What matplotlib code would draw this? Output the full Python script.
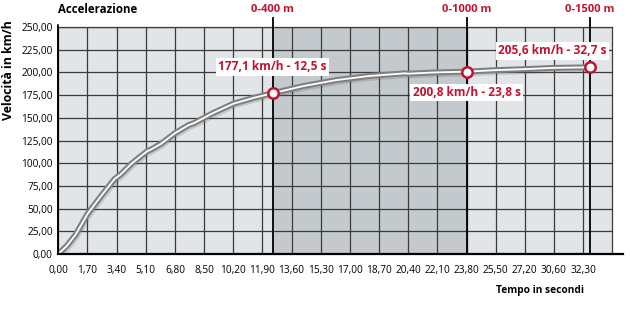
import numpy as np
import matplotlib
matplotlib.use("Agg")
import matplotlib.pyplot as plt
import matplotlib.patheffects as pe
from matplotlib.transforms import blended_transform_factory

plt.rcParams['font.family'] = ['Open Sans', 'DejaVu Sans']

# ---------------- data ----------------
# time (s) and speed (km/h)
tempo = [0.0, 0.5, 1.0, 1.7, 2.5, 3.3, 3.6, 4.3, 5.2, 5.4, 6.0, 6.8, 7.6, 7.9,
         9.0, 10.2, 11.4, 12.5, 14.3, 16.2, 18.1, 20.2, 20.4, 22.0, 23.8,
         25.5, 27.2, 30.6, 32.7]
velocita = [0.0, 9.0, 21.0, 44.0, 64.0, 83.0, 87.0, 100.0, 113.5, 115.0, 121.5,
            133.0, 142.0, 144.0, 155.0, 165.5, 172.0, 177.1, 185.0, 191.5,
            196.0, 199.0, 198.6, 200.0, 200.8, 202.5, 203.6, 205.0, 205.6]

# distance markers
dist_labels = ["0-400 m", "0-1000 m", "0-1500 m"]
dist_tempo = [12.5, 23.8, 32.7]
dist_velocita = [177.1, 200.8, 205.6]

# x tick labels as printed on the chart (28,90 is missing in the original)
xtick_vals = [0.0, 1.7, 3.4, 5.1, 6.8, 8.5, 10.2, 11.9, 13.6, 15.3, 17.0,
              18.7, 20.4, 22.1, 23.8, 25.5, 27.2, 30.6, 32.3]
ytick_vals = [0, 25, 50, 75, 100, 125, 150, 175, 200, 225, 250]

# the printed scale skips one step after 27,20
brk_in = [-100.0, 27.2, 30.6, 100.0]
brk_out = [-100.0, 27.2, 28.9, 98.3]


def forward(t):
    return np.interp(t, brk_in, brk_out)


def inverse(p):
    return np.interp(p, brk_out, brk_in)


RED = "#c4112f"
GRID = "#3a3a3a"

fig = plt.figure(figsize=(6.3, 3.1), dpi=100)
ax = fig.add_axes([0.0925, 0.1806, 0.8794, 0.7323])
ax.set_xscale('function', functions=(forward, inverse))
ax.set_xlim(0, 34.0)
ax.set_ylim(0, 250)
ax.set_facecolor("#e2e5e8")

# shaded band between 400 m and 1000 m
ax.axvspan(dist_tempo[0], dist_tempo[1], color="#c4c9cd", zorder=0, lw=0)

# grid
ax.set_xticks(xtick_vals)
ax.set_xticklabels([f"{v:.2f}".replace(".", ",") for v in xtick_vals], fontsize=7.3)
ax.set_yticks(ytick_vals)
ax.set_yticklabels([f"{v:.2f}".replace(".", ",") for v in ytick_vals], fontsize=7.3)
ax.tick_params(length=0)
ax.tick_params(axis='x', pad=8)
ax.tick_params(axis='y', pad=4)
ax.grid(True, color=GRID, lw=0.9, zorder=1)
ax.set_axisbelow(True)

for s in ["top", "right"]:
    ax.spines[s].set_color(GRID)
    ax.spines[s].set_linewidth(0.9)
ax.spines["left"].set_linewidth(1.2)
ax.spines["bottom"].set_visible(False)

trans = ax.transAxes
ax.plot([0, 1.02], [0, 0], color="black", lw=1.6, transform=trans, clip_on=False, zorder=5)
ax.plot([0, 0], [0, 1.01], color="black", lw=1.2, transform=trans, clip_on=False, zorder=5)

# distance lines and headers
vtrans = blended_transform_factory(ax.transData, ax.transAxes)
for lab, t in zip(dist_labels, dist_tempo):
    ax.plot([t, t], [0, 1.04], color="black", lw=1.3, transform=vtrans,
            clip_on=False, zorder=3)
    ax.text(t, 1.075, lab, transform=vtrans, ha="center", va="center",
            color=RED, fontsize=8, fontweight="bold")

# speed curve
ax.plot(tempo, velocita, color="white", lw=1.3, zorder=4, solid_capstyle="round",
        path_effects=[pe.SimpleLineShadow(offset=(0.6, -1.0), shadow_color="#555555",
                                          alpha=0.2, linewidth=5),
                      pe.Stroke(linewidth=4.3, foreground="#808080"),
                      pe.Normal()])

# markers and annotations
ax.plot(dist_tempo, dist_velocita, "o", ms=7.5, mfc="white", mec=RED, mew=1.8, zorder=6)
offsets = [(0, 19), (0, -15), (-27, 12)]
for t, v, off in zip(dist_tempo, dist_velocita, offsets):
    txt = f"{v:.1f} km/h - {t:.1f} s".replace(".", ",")
    ax.annotate(txt, (t, v), xytext=off, textcoords="offset points",
                ha="center", va="center", color=RED, fontsize=8.6,
                fontweight="bold", zorder=7,
                bbox=dict(boxstyle="square,pad=0.2", fc="white", ec="none"))

# titles
ax.text(0, 1.075, "Accelerazione", transform=ax.transAxes, ha="left", va="center",
        fontsize=8.3, fontweight="bold", color="black")
ax.text(-0.09, 0.81, "Velocità in km/h", transform=ax.transAxes, rotation=90,
        ha="center", va="center", fontsize=8.8, fontweight="bold")
ax.text(0.87, -0.162, "Tempo in secondi", transform=ax.transAxes, ha="center",
        va="center", fontsize=7.3, fontweight="bold")

fig.savefig("out.png", dpi=100)
